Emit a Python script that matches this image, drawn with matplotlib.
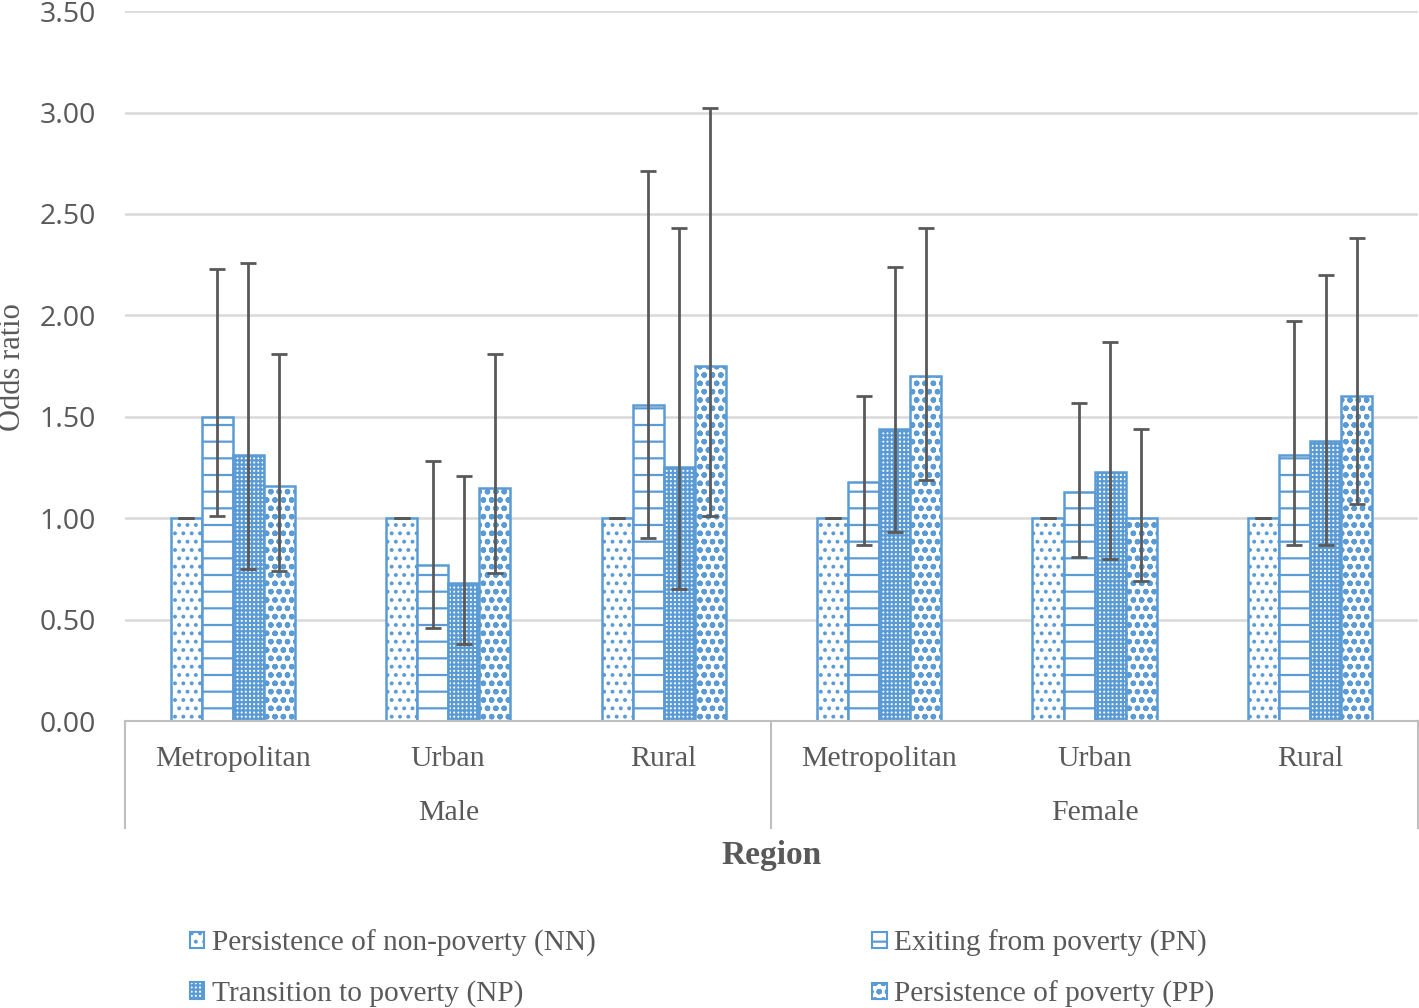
import numpy as np
import matplotlib
import matplotlib.pyplot as plt
from matplotlib.patches import Patch
from matplotlib.transforms import blended_transform_factory

matplotlib.use('Agg')

regions = ['Metropolitan', 'Urban', 'Rural', 'Metropolitan', 'Urban', 'Rural']
sexes = ['Male', 'Female']

series = ['Persistence of non-poverty (NN)', 'Exiting from poverty (PN)',
          'Transition to poverty (NP)', 'Persistence of poverty (PP)']

# odds ratios and 95% CI per series, in region order
nn_or = [1.00, 1.00, 1.00, 1.00, 1.00, 1.00]
nn_lo = [1.00, 1.00, 1.00, 1.00, 1.00, 1.00]
nn_hi = [1.00, 1.00, 1.00, 1.00, 1.00, 1.00]

pn_or = [1.50, 0.77, 1.56, 1.18, 1.13, 1.31]
pn_lo = [1.01, 0.46, 0.90, 0.87, 0.81, 0.87]
pn_hi = [2.23, 1.28, 2.71, 1.60, 1.57, 1.97]

np_or = [1.31, 0.68, 1.25, 1.44, 1.23, 1.38]
np_lo = [0.75, 0.38, 0.65, 0.93, 0.80, 0.87]
np_hi = [2.26, 1.21, 2.43, 2.24, 1.87, 2.20]

pp_or = [1.16, 1.15, 1.75, 1.70, 1.00, 1.60]
pp_lo = [0.74, 0.73, 1.01, 1.19, 0.69, 1.07]
pp_hi = [1.81, 1.81, 3.02, 2.43, 1.44, 2.38]

ors = [nn_or, pn_or, np_or, pp_or]
los = [nn_lo, pn_lo, np_lo, pp_lo]
his = [nn_hi, pn_hi, np_hi, pp_hi]
hatches = ['..', '-', '++++', 'oo']

blue = '#5B9BD5'
grey = '#595959'
serif = 'Liberation Serif'

plt.rcParams['hatch.linewidth'] = 1.6
plt.rcParams['hatch.color'] = blue

fig = plt.figure(figsize=(14.19, 10.08), dpi=100)
ax = fig.add_axes([0.0881, 0.2847, 0.9110, 0.7043])

x = np.arange(len(regions))
w = 0.144
for k in range(4):
    xs = x + (k - 1.5) * w
    ax.bar(xs, ors[k], width=w, color='white', edgecolor=blue,
           linewidth=1.8, hatch=hatches[k], zorder=2)
    v = np.array(ors[k])
    yerr = [v - np.array(los[k]), np.array(his[k]) - v]
    ax.errorbar(xs, v, yerr=yerr, fmt='none', ecolor=grey, elinewidth=2,
                capsize=5.5, capthick=2, zorder=3)

ax.set_xlim(-0.5, 5.5)
ax.set_ylim(0, 3.5)
ax.set_yticks(np.arange(0, 3.51, 0.5))
ax.set_yticklabels(['%.2f' % t for t in np.arange(0, 3.51, 0.5)],
                   fontfamily='Open Sans', fontsize=20.5, color=grey)
ax.tick_params(axis='y', length=0, pad=21)
ax.set_xticks([])
ax.grid(axis='y', color='#D9D9D9', linewidth=1.8, zorder=0)
ax.set_axisbelow(True)
for s in ['top', 'right', 'left']:
    ax.spines[s].set_visible(False)
ax.spines['bottom'].set_color('#BFBFBF')
ax.spines['bottom'].set_linewidth(1.5)

# two-level category axis
tr = blended_transform_factory(ax.transData, ax.transAxes)
for i, r in enumerate(regions):
    ax.text(i, -0.054, r, transform=tr, ha='center', va='center',
            fontfamily=serif, fontsize=21.5, color=grey)
for j, s in enumerate(sexes):
    ax.text(1 + 3 * j, -0.129, s, transform=tr, ha='center', va='center',
            fontfamily=serif, fontsize=21.5, color=grey)
for xb in [-0.5, 2.5, 5.5]:
    ax.plot([xb, xb], [0, -0.151], transform=tr, color='#BFBFBF',
            linewidth=1.5, clip_on=False)

ax.text(2.5, -0.190, 'Region', transform=tr, ha='center', va='center',
        fontfamily=serif, fontsize=24, fontweight='bold', color=grey)
fig.text(0.009, 0.636, 'Odds ratio', rotation=90, ha='center', va='center',
         fontfamily=serif, fontsize=22, color=grey)

order = [0, 2, 1, 3]
handles = [Patch(facecolor='white', edgecolor=blue, hatch=hatches[k],
                 linewidth=1.5, label=series[k]) for k in order]
fig.legend(handles=handles, ncol=2, loc='lower left',
           bbox_to_anchor=(0.115, -0.026), frameon=False,
           prop={'family': serif, 'size': 21.2}, labelcolor=grey,
           handlelength=0.5, handleheight=0.5, handletextpad=0.25,
           columnspacing=9.4, labelspacing=0.8)

fig.savefig('out.png', dpi=100)
